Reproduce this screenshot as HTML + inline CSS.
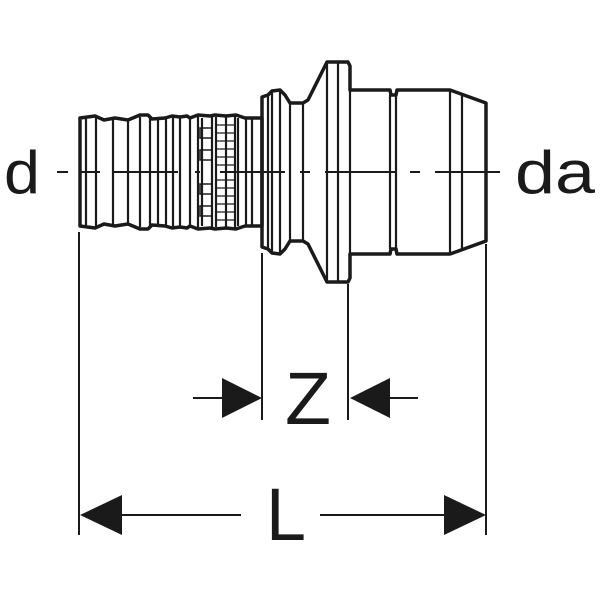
<!DOCTYPE html>
<html><head><style>html,body{margin:0;padding:0;background:#fff}svg{display:block}</style></head>
<body>
<svg width="600" height="600" viewBox="0 0 600 600" xmlns="http://www.w3.org/2000/svg">
<g fill="none" stroke="#1a1a1a" stroke-width="2.2">
<path d="M80,118 L95,116 L104,120 L115,118 L128,120 L140,115 L148,115 L152,119 L165,118 L172,116 L180,117 L187,116 L190,118 L198,115 L210,116 L215,115 L226,116 L236,115 L245,118 L262,118 L262,226 L245,226 L236,229 L226,228 L215,229 L210,228 L198,229 L190,226 L187,228 L180,227 L172,228 L165,226 L152,225 L148,229 L140,229 L128,224 L115,226 L104,224 L95,228 L80,226 Z" stroke-width="3.5" stroke-linejoin="round"/>
<path d="M86,118V226M96,118V226M113,119V225M128,120V224M140,117V227M150,118V226M158,118V226M166,118V226M173,117V227M180,118V226M190,118V226M198,116V228M202,118V226M212,116V228M216,117V227M226,117V227M235,116V228M238,118V226M246,118V226M252,118V226"/>
<path d="M200,128h12v10h-12zM200,150h12v10h-12zM200,184h12v10h-12zM200,206h12v10h-12z" stroke-width="1.5"/>
<path d="M217,125H235M217,133H235M217,141H235M217,149H235M217,157H235M217,165H235M217,180H235M217,188H235M217,196H235M217,204H235M217,212H235M217,220H235" stroke-width="1.2"/>
<path d="M262,97 L268,95 L272,91 L280,90 L285,95 L290,103 L303,103 L308,100 L322,72 L327,62 L348,62 L350,66 L350,90 L390,90 L391,95 L396,95 L397,90 L450,90 L486,103 L486,241 L450,254 L397,254 L396,249 L391,249 L390,254 L350,254 L350,278 L348,282 L327,282 L322,272 L308,244 L303,241 L290,241 L285,249 L280,254 L272,253 L268,249 L262,247 Z" stroke-width="3.5" stroke-linejoin="round"/>
<path d="M268,96V248M272,92V252M280,91V253M290,103V241M303,103V241M327,64V280M338,63V281M350,90V254M390,95V249M396,95V249M450,91V253M462,95V249"/>
<path d="M57,172H68M80,172H100M112,172H178M195,172H200M220,172H285M300,172H310M325,172H395M410,172H420M435,172H500" stroke-width="2"/>
<path d="M79,232V535M262,253V420M348,284V420M486,244V535" stroke-width="2"/>
<path d="M193,398H225M388,398H418M120,515H241M320,515H448" stroke-width="2"/>
</g>
<g fill="#1a1a1a">
<polygon points="262,398 222,378 222,418"/>
<polygon points="350,398 390,378 390,418"/>
<polygon points="80,515 122,495 122,535"/>
<polygon points="486,515 444,495 444,535"/>
</g>
<g font-family="Liberation Sans, sans-serif" fill="#1a1a1a">
<text x="4" y="193" font-size="60" textLength="36" lengthAdjust="spacingAndGlyphs">d</text>
<text x="515" y="193" font-size="60" textLength="80" lengthAdjust="spacingAndGlyphs">da</text>
<text x="285" y="424" font-size="74" textLength="46" lengthAdjust="spacingAndGlyphs">Z</text>
<text x="266" y="540" font-size="74" textLength="40" lengthAdjust="spacingAndGlyphs">L</text>
</g>
</svg>
</body></html>
